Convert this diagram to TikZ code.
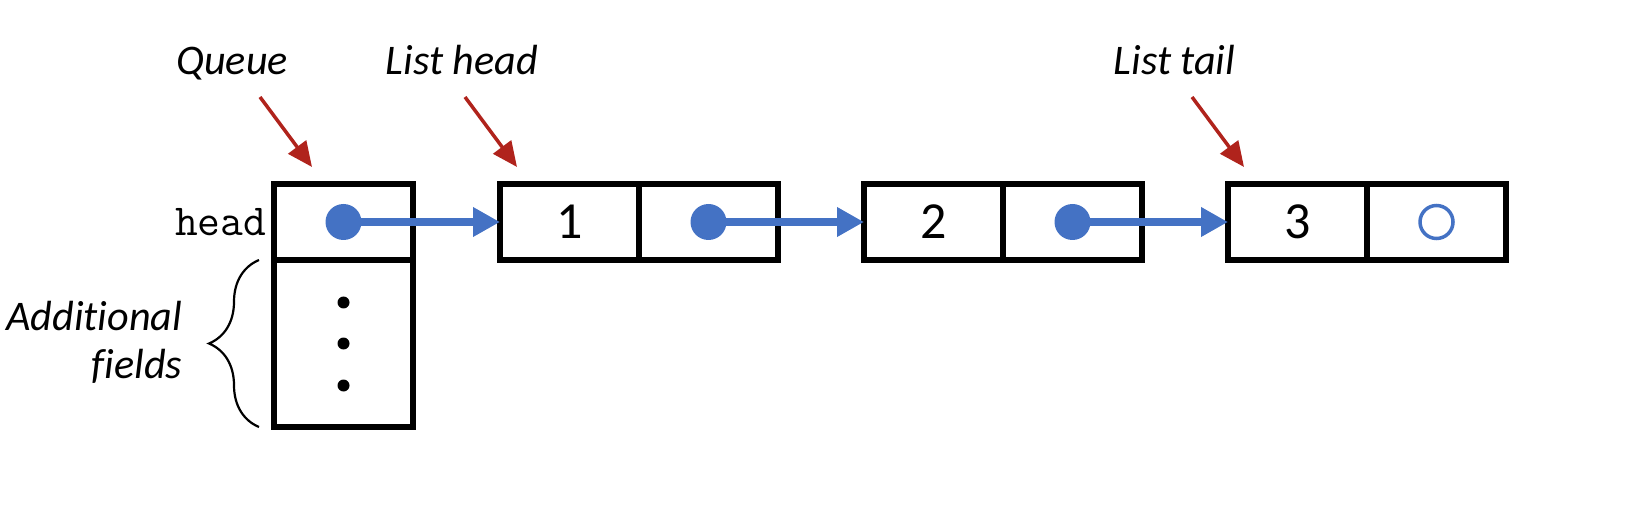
\documentclass[tikz,border=0pt]{standalone}
\usepackage{fontspec}
\setmainfont{Carlito}[Ligatures=NoCommon]
\usetikzlibrary{arrows.meta, positioning, decorations.pathreplacing}
\definecolor{PtrBlue}{HTML}{4472C4}
\definecolor{CalloutRed}{HTML}{B0231C}

\begin{document}
\begin{tikzpicture}[
			cell/.style={draw,rectangle,line width=0.06cm,outer sep=0pt,inner sep=0pt,
				minimum width=1.39cm,minimum height=0.76cm,font=\fontsize{14.8}{16}\selectfont},
			lbl/.style={inner sep=0pt,font=\fontsize{12}{13.7}\selectfont\itshape},
			link/.style={PtrBlue,line width=0.08cm,-{Triangle[length=0.27cm,width=0.28cm]}},
			callout/.style={CalloutRed,line width=0.035cm,-{Triangle[length=0.25cm,width=0.22cm]}}
		]
			\useasboundingbox (0,0) rectangle (16.32,5.08);

			% queue record
			\node (queueHead) [cell] at (3.435,2.86) {};
			\node (queueFields) [cell,minimum height=1.67cm,below=0cm of queueHead] {};
			\node (headLbl) [left=0.07cm of queueHead,inner sep=0pt,font=\fontsize{12.6}{13}\selectfont\ttfamily] {head};

			% list cells
			\node (val1) [cell,right=0.87cm of queueHead] {1};
			\node (next1) [cell,right=0cm of val1] {};
			\node (val2) [cell,right=0.86cm of next1] {2};
			\node (next2) [cell,right=0cm of val2] {};
			\node (val3) [cell,right=0.86cm of next2] {3};
			\node (next3) [cell,right=0cm of val3] {};

			% pointers
			\fill[PtrBlue] (queueHead.center) circle (0.18cm);
			\fill[PtrBlue] (next1.center) circle (0.18cm);
			\fill[PtrBlue] (next2.center) circle (0.18cm);
			\draw[PtrBlue,line width=0.035cm] (next3.center) circle (0.165cm);
			\draw[link] (queueHead.center) -- (val1.west);
			\draw[link] (next1.center) -- (val2.west);
			\draw[link] (next2.center) -- (val3.west);

			% additional fields
			\fill ([yshift=0.41cm]queueFields.center) circle (0.06cm);
			\fill (queueFields.center) circle (0.06cm);
			\fill ([yshift=-0.42cm]queueFields.center) circle (0.06cm);
			\coordinate (braceBot) at ([xshift=-0.15cm]queueFields.south west);
			\coordinate (braceTop) at ([xshift=-0.15cm]queueFields.north west);
			\draw[line width=0.022cm,decorate,decoration={brace,amplitude=0.5cm}] (braceBot) -- (braceTop);
			\node (fieldsLbl) [lbl,align=right,anchor=east] at (1.83,1.66) {Additional\\fields};

			% callouts
			\node (queueLbl) [lbl,anchor=base] at (2.32,4.33) {Queue};
			\node (listHeadLbl) [lbl,anchor=base west] at (3.85,4.33) {List head};
			\node (listTailLbl) [lbl,anchor=base west] at (11.13,4.33) {List tail};
			\coordinate (queueTip) at ([xshift=0.38cm,yshift=0.17cm]queueHead.north west);
			\coordinate (headTip) at ([xshift=0.17cm,yshift=0.17cm]val1.north west);
			\coordinate (tailTip) at ([xshift=0.16cm,yshift=0.17cm]val3.north west);
			\draw[callout] ([shift={(-0.52,0.70)}]queueTip) -- (queueTip);
			\draw[callout] ([shift={(-0.52,0.70)}]headTip) -- (headTip);
			\draw[callout] ([shift={(-0.52,0.70)}]tailTip) -- (tailTip);
		\end{tikzpicture}
\end{document}
